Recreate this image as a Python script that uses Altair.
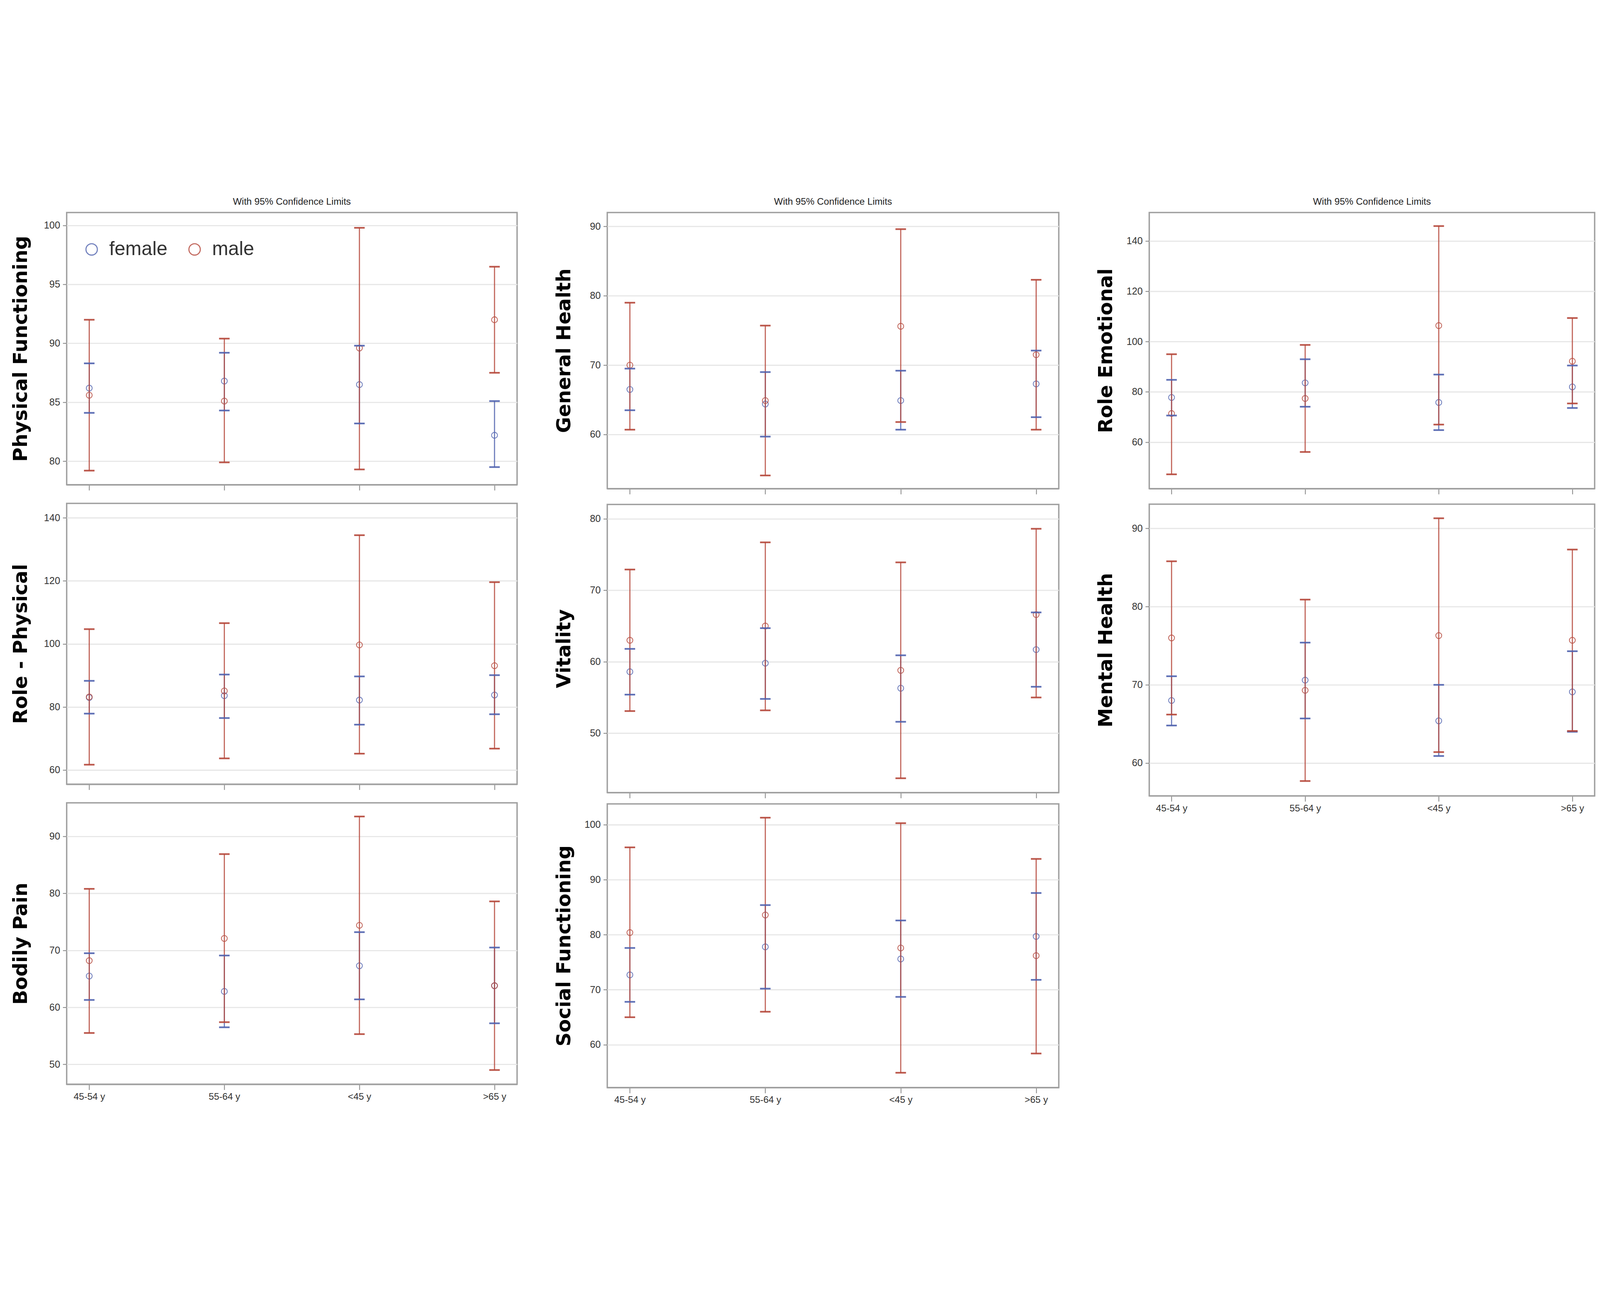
import altair as alt
import pandas as pd

ages = ["45-54 y", "55-64 y", "<45 y", ">65 y"]
sexes = ["female", "male"]
colors = ["#4f62ae", "#b5473a"]

# means and 95% limits per age group
physical_functioning = {
    "female_mean": [86.2, 86.8, 86.5, 82.2],
    "female_lower": [84.1, 84.3, 83.2, 79.5],
    "female_upper": [88.3, 89.2, 89.8, 85.1],
    "male_mean": [85.6, 85.1, 89.6, 92.0],
    "male_lower": [79.2, 79.9, 79.3, 87.5],
    "male_upper": [92.0, 90.4, 99.8, 96.5],
}
general_health = {
    "female_mean": [66.5, 64.4, 64.9, 67.3],
    "female_lower": [63.5, 59.7, 60.7, 62.5],
    "female_upper": [69.5, 69.0, 69.2, 72.1],
    "male_mean": [70.0, 64.9, 75.6, 71.5],
    "male_lower": [60.7, 54.1, 61.8, 60.7],
    "male_upper": [79.0, 75.7, 89.6, 82.3],
}
role_emotional = {
    "female_mean": [77.8, 83.6, 75.8, 82.0],
    "female_lower": [70.6, 74.1, 64.8, 73.6],
    "female_upper": [84.8, 93.0, 86.9, 90.5],
    "male_mean": [71.4, 77.4, 106.4, 92.2],
    "male_lower": [47.2, 56.1, 67.0, 75.4],
    "male_upper": [95.0, 98.7, 146.0, 109.4],
}
role_physical = {
    "female_mean": [83.0, 83.6, 82.2, 83.8],
    "female_lower": [77.9, 76.5, 74.4, 77.7],
    "female_upper": [88.3, 90.3, 89.7, 90.1],
    "male_mean": [83.2, 85.1, 99.7, 93.1],
    "male_lower": [61.7, 63.7, 65.2, 66.8],
    "male_upper": [104.7, 106.6, 134.5, 119.6],
}
vitality = {
    "female_mean": [58.6, 59.8, 56.3, 61.7],
    "female_lower": [55.4, 54.8, 51.6, 56.5],
    "female_upper": [61.8, 64.7, 60.9, 66.9],
    "male_mean": [63.0, 65.0, 58.8, 66.6],
    "male_lower": [53.1, 53.2, 43.7, 55.0],
    "male_upper": [72.9, 76.7, 73.9, 78.6],
}
mental_health = {
    "female_mean": [68.0, 70.6, 65.4, 69.1],
    "female_lower": [64.8, 65.7, 60.9, 64.0],
    "female_upper": [71.1, 75.4, 70.0, 74.3],
    "male_mean": [76.0, 69.3, 76.3, 75.7],
    "male_lower": [66.2, 57.7, 61.4, 64.1],
    "male_upper": [85.8, 80.9, 91.3, 87.3],
}
bodily_pain = {
    "female_mean": [65.5, 62.8, 67.3, 63.8],
    "female_lower": [61.3, 56.5, 61.4, 57.2],
    "female_upper": [69.5, 69.1, 73.2, 70.5],
    "male_mean": [68.2, 72.1, 74.4, 63.8],
    "male_lower": [55.5, 57.4, 55.3, 49.0],
    "male_upper": [80.8, 86.9, 93.5, 78.6],
}
social_functioning = {
    "female_mean": [72.7, 77.8, 75.6, 79.7],
    "female_lower": [67.8, 70.2, 68.7, 71.8],
    "female_upper": [77.6, 85.4, 82.6, 87.6],
    "male_mean": [80.4, 83.6, 77.6, 76.2],
    "male_lower": [65.0, 66.0, 54.9, 58.4],
    "male_upper": [95.9, 101.3, 100.3, 93.8],
}

# y axis ranges and tick labels per panel
pf_axis = ([78.0, 101.1], [80, 85, 90, 95, 100])
gh_axis = ([52.2, 92.0], [60, 70, 80, 90])
re_axis = ([41.5, 151.4], [60, 80, 100, 120, 140])
rp_axis = ([55.5, 144.6], [60, 80, 100, 120, 140])
vt_axis = ([41.7, 82.0], [50, 60, 70, 80])
mh_axis = ([55.8, 93.1], [60, 70, 80, 90])
bp_axis = ([46.5, 95.9], [50, 60, 70, 80, 90])
sf_axis = ([52.2, 103.8], [60, 70, 80, 90, 100])

text_font = "Liberation Sans"
frame_grey = "#a0a0a0"


def to_frame(values):
    rows = []
    for sex in sexes:
        for i, age in enumerate(ages):
            rows.append({
                "age": age, "sex": sex,
                "mean": values[sex + "_mean"][i],
                "lower": values[sex + "_lower"][i],
                "upper": values[sex + "_upper"][i],
            })
    return pd.DataFrame(rows)


def panel(values, label, axis_info, width, height, title_x,
          top=False, show_x=False, legend=False):
    domain, ticks = axis_info
    base = alt.Chart(to_frame(values))

    x = alt.X("age:N", sort=ages,
              scale=alt.Scale(type="point", padding=0.167),
              axis=alt.Axis(title=None, labels=show_x, labelAngle=0,
                            labelFontSize=34, labelFont=text_font,
                            labelColor="#333333", labelPadding=8,
                            tickSize=20, tickWidth=3, tickColor="#8a8a8a",
                            domainColor=frame_grey, domainWidth=5, grid=False))
    y_scale = alt.Scale(domain=domain, nice=False, zero=False)
    y_axis = alt.Axis(values=ticks, title=label, titleFontSize=70,
                      titleFont="DejaVu Sans", titleFontWeight="bold",
                      titleColor="black", titleX=title_x,
                      titleBaseline="alphabetic",
                      grid=True, gridColor="#e6e6e6", gridWidth=4,
                      labelFontSize=35, labelFont=text_font,
                      labelColor="#333333", labelPadding=10,
                      tickSize=14, tickWidth=3, tickColor="#8a8a8a",
                      domain=False)
    color_scale = alt.Scale(domain=sexes, range=colors)

    if legend:
        leg = alt.Legend(title=None, orient="none", legendX=55, legendY=98,
                         direction="horizontal", labelFontSize=70,
                         labelFont=text_font, labelColor="#333333",
                         labelLimit=600, symbolSize=1680,
                         symbolStrokeWidth=4, symbolType="circle",
                         labelOffset=28, columnPadding=62)
    else:
        leg = None
    # the point layer comes first so its legend settings win the merge
    points = base.mark_point(shape="circle", filled=False, size=450,
                             strokeWidth=3, opacity=0.8).encode(
        x=x,
        y=alt.Y("mean:Q", scale=y_scale, axis=y_axis),
        color=alt.Color("sex:N", scale=color_scale, legend=leg),
    )
    rules = base.mark_rule(strokeWidth=4, opacity=0.85).encode(
        x=x,
        y=alt.Y("lower:Q", scale=y_scale),
        y2="upper:Q",
        color=alt.Color("sex:N", scale=color_scale, legend=None),
    )
    # whisker caps, drawn as short horizontal rules
    caps_lo = base.mark_rule(strokeWidth=6, opacity=0.9,
                             xOffset=-19, x2Offset=19).encode(
        x=x, x2="age:N", y=alt.Y("lower:Q", scale=y_scale),
        color=alt.Color("sex:N", scale=color_scale, legend=None),
    )
    caps_hi = base.mark_rule(strokeWidth=6, opacity=0.9,
                             xOffset=-19, x2Offset=19).encode(
        x=x, x2="age:N", y=alt.Y("upper:Q", scale=y_scale),
        color=alt.Color("sex:N", scale=color_scale, legend=None),
    )
    chart = alt.layer(points, rules, caps_lo, caps_hi).properties(
        width=width, height=height)
    if top:
        chart = chart.properties(title=alt.TitleParams(
            "With 95% Confidence Limits", fontSize=34, font=text_font,
            fontWeight="normal", color="#222222", offset=21,
            anchor="middle"))
    return chart


col1 = alt.vconcat(
    panel(physical_functioning, "Physical Functioning", pf_axis, 1623, 981, -144,
          top=True, legend=True),
    panel(role_physical, "Role - Physical", rp_axis, 1623, 1012, -144),
    panel(bodily_pain, "Bodily Pain", bp_axis, 1623, 1014, -144, show_x=True),
    spacing=40,
).resolve_scale(color="independent")
col2 = alt.vconcat(
    alt.vconcat(
        panel(general_health, "General Health", gh_axis, 1627, 995, -134,
              top=True),
        panel(vitality, "Vitality", vt_axis, 1627, 1038, -134),
        spacing=30,
    ).resolve_scale(color="independent"),
    panel(social_functioning, "Social Functioning", sf_axis, 1627, 1022, -134,
          show_x=True),
    spacing=14,
).resolve_scale(color="independent")
col3 = alt.vconcat(
    panel(role_emotional, "Role Emotional", re_axis, 1605, 995, -135, top=True),
    panel(mental_health, "Mental Health", mh_axis, 1605, 1051, -135, show_x=True),
    spacing=29,
).resolve_scale(color="independent")

chart = alt.hconcat(col1, col2, col3, spacing=129).resolve_scale(
    color="independent"
).properties(
    padding={"left": 26, "top": 23, "right": 5, "bottom": 5},
    background="white",
).configure_view(stroke=frame_grey, strokeWidth=5)

chart.save("out.html", embed_options={"renderer": "svg", "actions": False})
